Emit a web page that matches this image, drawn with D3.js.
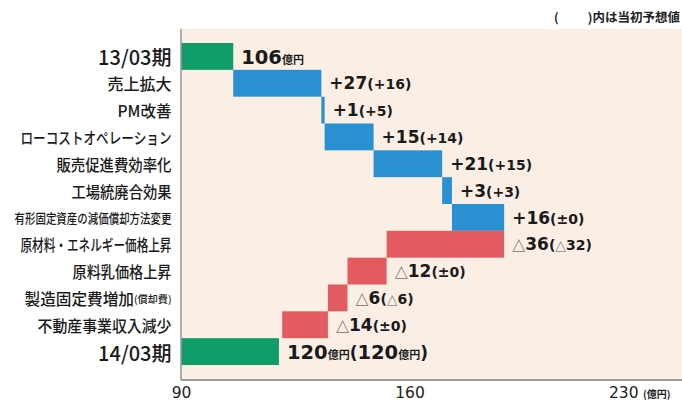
<!DOCTYPE html>
<html><head><meta charset="utf-8">
<script src="https://cdn.jsdelivr.net/npm/d3@7/dist/d3.min.js"></script>
<style>body{margin:0;background:#fff;} svg{display:block;}</style>
</head><body>
<svg id="chart" width="682" height="403"></svg>
<script>
// ---------- data ----------
const categories = ["13/03期","売上拡大","PM改善","ローコストオペレーション","販売促進費効率化","工場統廃合効果","有形固定資産の減価償却方法変更","原材料・エネルギー価格上昇","原料乳価格上昇","製造固定費増加","不動産事業収入減少","14/03期"];
const categoryNotes = ["","","","","","","","","","(償却費)","",""];
const kinds = ["total","up","up","up","up","up","up","down","down","down","down","total"];
const values = [106,27,1,15,21,3,16,-36,-12,-6,-14,120];
const mainLabels = ["106億円","+27","+1","+15","+21","+3","+16","△36","△12","△6","△14","120億円"];
const forecastLabels = ["","(+16)","(+5)","(+14)","(+15)","(+3)","(±0)","(△32)","(±0)","(△6)","(±0)","(120億円)"];
const xTicks = [90,160,230];
const xUnit = "(億円)";
const legendText = ")内は当初予想値";

// ---------- layout / style ----------
const W = 682, H = 403;
const plot = {left:181, right:682, top:29, bottom:380};
const colors = {total:"#0e9c69", up:"#2991d2", down:"#e35b60", bg:"#fbefe5", axis:"#9c9c9c"};
const labelWidth = {"売上拡大":64,"PM改善":54,"ローコストオペレーション":151,"販売促進費効率化":115,"工場統廃合効果":100,"有形固定資産の減価償却方法変更":157,"原材料・エネルギー価格上昇":151,"原料乳価格上昇":99,"製造固定費増加":147,"不動産事業収入減少":134};

const svg = d3.select("#chart");
const x = d3.scaleLinear().domain([90,230]).range([181,638]);
const y = d3.scaleBand().domain(categories).range([43,365]).padding(0);

// background
svg.append("rect").attr("x",plot.left).attr("y",plot.top)
  .attr("width",plot.right-plot.left).attr("height",plot.bottom-plot.top).attr("fill",colors.bg);

// waterfall geometry
let running = 0;
const bars = categories.map((c,i)=>{
  let x0,x1;
  if(kinds[i]==="total"){ x0 = x.domain()[0]; x1 = values[i]; running = values[i]; }
  else { x0 = running; x1 = running + values[i]; running = x1; }
  return {cat:c, kind:kinds[i], x0, x1, i};
});

svg.append("g").selectAll("rect").data(bars).join("rect")
  .attr("x",d=>x(Math.min(d.x0,d.x1)))
  .attr("width",d=>Math.max(1.5, Math.abs(x(d.x1)-x(d.x0))))
  .attr("y",d=>y(d.cat))
  .attr("height",y.bandwidth())
  .attr("fill",d=>colors[d.kind]);

// axes lines
svg.append("line").attr("x1",plot.left).attr("x2",plot.left).attr("y1",plot.top).attr("y2",plot.bottom)
  .attr("stroke",colors.axis).attr("stroke-width",1.6);
svg.append("line").attr("x1",plot.left).attr("x2",plot.right).attr("y1",plot.bottom).attr("y2",plot.bottom)
  .attr("stroke",colors.axis).attr("stroke-width",1.8);

// x axis ticks
const xAxis = d3.axisBottom(x).tickValues(xTicks).tickSize(0).tickFormat(d3.format("d"));
const gx = svg.append("g").attr("transform",`translate(0,${plot.bottom})`).call(xAxis);
gx.select(".domain").remove();
gx.selectAll("text").attr("dy",null).attr("y",18)
  .attr("font-family","'DejaVu Sans', sans-serif").attr("font-size",15.5).attr("fill","#222")
  .attr("text-anchor",(d,i)=> i===xTicks.length-1 ? "end" : "middle");
svg.append("text").attr("x",x(xTicks[xTicks.length-1])+5).attr("y",398)
  .attr("font-family","'Noto Sans CJK JP', sans-serif").attr("font-weight","bold")
  .attr("font-size",10).attr("fill","#222").text(xUnit);

// category labels
const catG = svg.append("g");
bars.forEach((d,i)=>{
  const cy = y(d.cat)+y.bandwidth()/2;
  const isTotal = d.kind==="total";
  const t = catG.append("text").attr("x",171.5).attr("y",cy).attr("text-anchor","end")
    .attr("dominant-baseline","central")
    .attr("font-family","'Noto Sans CJK JP', sans-serif").attr("font-weight",500).attr("fill","#1a1a1a")
    .attr("font-size", isTotal ? 20 : (d.cat.length>13 ? 13 : 15.5));
  t.append("tspan").text(d.cat);
  if(categoryNotes[i]) t.append("tspan").attr("font-size",10).text(categoryNotes[i]);
  if(labelWidth[d.cat]) t.attr("textLength",labelWidth[d.cat]).attr("lengthAdjust","spacingAndGlyphs");
});

// value labels
function addRuns(textSel, str, big, small, paren){
  const chars = Array.from(str);
  const runs = [];
  chars.forEach(ch=>{
    let style;
    if(ch==="億"||ch==="円") style = {size:small, fill:"#1a1a1a", weight:"bold", fam:"'Noto Sans CJK JP', sans-serif"};
    else if(ch==="△") style = {size:big, fill:"#8a8a8a", weight:"normal", fam:"'DejaVu Sans', sans-serif"};
    else if(ch==="("||ch===")") style = {size:paren, fill:"#1a1a1a", weight:"bold", fam:"'DejaVu Sans', sans-serif"};
    else style = {size:big, fill:"#1a1a1a", weight:"bold", fam:"'DejaVu Sans', sans-serif"};
    const last = runs[runs.length-1];
    if(last && last.size===style.size && last.fill===style.fill && last.fam===style.fam) last.s += ch;
    else runs.push(Object.assign({s:ch}, style));
  });
  runs.forEach(r=>{
    textSel.append("tspan").attr("font-size",r.size).attr("fill",r.fill)
      .attr("font-weight",r.weight).attr("font-family",r.fam).text(r.s);
  });
}
const valG = svg.append("g");
bars.forEach((d,i)=>{
  const cy = y(d.cat)+y.bandwidth()/2;
  const isTotal = d.kind==="total";
  const bigMain = isTotal ? 19.5 : 17;
  const lx = x(Math.max(d.x0,d.x1)) + 8;
  const t = valG.append("text").attr("x",lx).attr("y",cy + 0.365*bigMain);
  addRuns(t, mainLabels[i], bigMain, 11, bigMain);
  if(forecastLabels[i]){
    t.append("tspan").attr("dx",isTotal ? 3 : 4).text("");
    if(isTotal) addRuns(t, forecastLabels[i], 19.5, 11, 17);
    else addRuns(t, forecastLabels[i], 14, 14, 14);
  }
});

// legend
svg.append("text").attr("x",554).attr("y",22).attr("font-family","'Noto Sans CJK JP', sans-serif")
  .attr("font-weight","bold").attr("font-size",12).attr("fill","#222").text("(");
svg.append("text").attr("x",680).attr("y",22).attr("text-anchor","end").attr("font-family","'Noto Sans CJK JP', sans-serif")
  .attr("font-weight","bold").attr("font-size",12.5).attr("fill","#222").text(legendText);
</script>
</body></html>
